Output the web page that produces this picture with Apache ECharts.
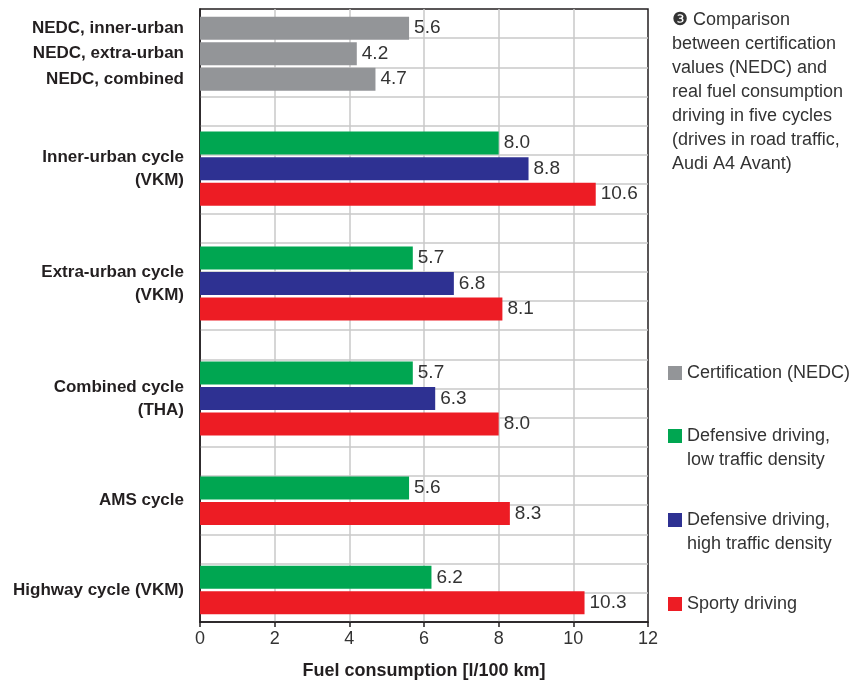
<!DOCTYPE html>
<html>
<head>
<meta charset="utf-8">
<title>Fuel consumption</title>
<script src="https://cdn.jsdelivr.net/npm/echarts@6.0.0/dist/echarts.min.js"></script>
<style>
  html, body { margin: 0; padding: 0; background: #fff; }
  #chart { width: 859px; height: 680px; }
</style>
</head>
<body>
<div id="chart"></div>
<script>
// values
const nedcLabels = ['NEDC, inner-urban', 'NEDC, extra-urban', 'NEDC, combined']
const nedcValues = [5.6, 4.2, 4.7]
const cycleLabels = ['Inner-urban cycle\n(VKM)', 'Extra-urban cycle\n(VKM)', 'Combined cycle\n(THA)', 'AMS cycle', 'Highway cycle (VKM)']
const lowTraffic = [8.0, 5.7, 5.7, 5.6, 6.2]
const highTraffic = [8.8, 6.8, 6.3, null, null]
const sporty = [10.6, 8.1, 8.0, 8.3, 10.3]
const xTicks = [0, 2, 4, 6, 8, 10, 12]
const seriesNames = ['Certification (NEDC)', 'Defensive driving,\nlow traffic density', 'Defensive driving,\nhigh traffic density', 'Sporty driving']
const colors = ['#939598', '#00a651', '#2e3192', '#ed1c24']

// half-row slots on the category axis: bars sit every 2 slots, groups are 5 apart
const slotCount = 48
const cats = new Array(slotCount).fill('')
const gray = new Array(slotCount).fill('-')
const green = new Array(slotCount).fill('-')
const blue = new Array(slotCount).fill('-')
const red = new Array(slotCount).fill('-')

let pos = 1
nedcLabels.forEach((name, i) => {
  cats[pos] = name
  gray[pos] = nedcValues[i]
  pos += 2
})
pos += 3
cycleLabels.forEach((name, i) => {
  const first = pos
  green[pos] = lowTraffic[i]
  pos += 2
  if (highTraffic[i] != null) {
    blue[pos] = highTraffic[i]
    pos += 2
  }
  red[pos] = sporty[i]
  cats[(first + pos) / 2] = name
  pos += 5
})

const textColor = '#231f20'
const font = 'Liberation Sans, Arial, sans-serif'

const chart = echarts.init(document.getElementById('chart'))

const barSeries = [gray, green, blue, red].map((data, i) => ({
  name: seriesNames[i],
  type: 'bar',
  yAxisIndex: 0,
  data: data,
  barWidth: 23,
  barGap: '-100%',
  itemStyle: { color: colors[i] },
  label: {
    show: true,
    position: 'right',
    distance: 5,
    color: '#333',
    fontSize: 19,
    fontFamily: font,
    padding: [3, 0, 0, 0],
    formatter: p => p.value.toFixed(1)
  },
  silent: true
}))

// one small legend per entry; a leading blank line puts the icon level with the first text line
const legendTops = [361, 400, 484, 592]
const legends = seriesNames.map((name, i) => ({
  data: [name],
  orient: 'vertical',
  left: 668,
  top: legendTops[i],
  padding: 0,
  itemWidth: 14,
  itemHeight: 14,
  icon: 'rect',
  selectedMode: false,
  formatter: n => (n.indexOf('\n') >= 0 ? '\n' + n : n),
  textStyle: {
    color: '#333',
    fontSize: 18,
    fontFamily: font,
    lineHeight: 24
  }
}))

const option = {
  animation: false,
  textStyle: { fontFamily: font },
  title: {
    text: '\u2778 Comparison\nbetween certification\nvalues (NEDC) and\nreal fuel consumption\ndriving in five cycles\n(drives in road traffic,\nAudi A4 Avant)',
    left: 672,
    top: 8,
    padding: 0,
    textStyle: {
      color: '#333',
      fontSize: 18,
      fontWeight: 'normal',
      fontFamily: font,
      lineHeight: 24
    }
  },
  legend: legends,
  grid: {
    left: 200,
    top: 9,
    width: 448,
    height: 613,
    show: true,
    borderColor: textColor,
    borderWidth: 1.5,
    containLabel: false,
    outerBoundsMode: 'none'
  },
  xAxis: {
    type: 'value',
    min: xTicks[0],
    max: xTicks[xTicks.length - 1],
    interval: 2,
    name: 'Fuel consumption [l/100 km]',
    nameLocation: 'middle',
    nameGap: 40,
    nameTextStyle: { color: textColor, fontSize: 18, fontWeight: 'bold', fontFamily: font },
    axisLine: { show: true, onZero: false, lineStyle: { color: textColor, width: 1.5 } },
    axisTick: { show: true, length: 5, lineStyle: { color: textColor, width: 1.5 } },
    axisLabel: { color: '#333', fontSize: 18, margin: 8, fontFamily: font },
    splitLine: { show: true, showMinLine: false, showMaxLine: false, lineStyle: { color: '#c8c8c8', width: 1.5 } }
  },
  yAxis: [
    {
      type: 'category',
      inverse: true,
      data: cats,
      axisLine: { show: true, onZero: false, lineStyle: { color: textColor, width: 1.5 } },
      axisTick: { show: false },
      axisLabel: {
        interval: 0,
        margin: 16,
        color: textColor,
        fontSize: 17,
        fontWeight: 'bold',
        fontFamily: font,
        lineHeight: 23,
        padding: [4, 0, 0, 0]
      },
      splitLine: { show: false }
    },
    {
      // even horizontal rules across the plot, 21 rows
      type: 'value',
      inverse: true,
      min: 0,
      max: 21,
      interval: 1,
      position: 'right',
      axisLine: { show: false },
      axisTick: { show: false },
      axisLabel: { show: false },
      splitLine: { show: true, showMinLine: false, showMaxLine: false, lineStyle: { color: '#c8c8c8', width: 1.5 } }
    }
  ],
  series: barSeries
}

chart.setOption(option)
</script>
</body>
</html>
